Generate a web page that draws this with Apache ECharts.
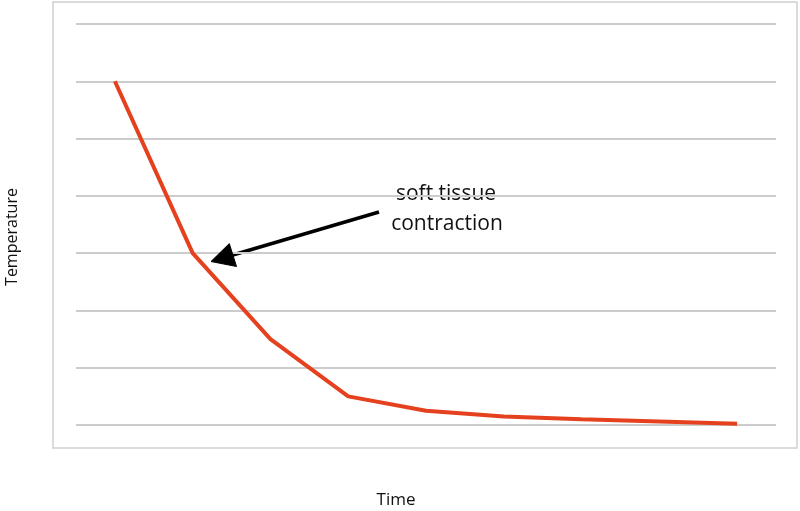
<!DOCTYPE html>
<html><head><meta charset="utf-8">
<script src="https://cdn.jsdelivr.net/npm/echarts@6/dist/echarts.min.js"></script>
<style>html,body{margin:0;padding:0;background:#fff}#c{width:800px;height:511px}</style>
</head><body><div id="c"></div>
<script>
var categories = ['1','2','3','4','5','6','7','8','9'];
var temperature = [6.0, 3.0, 1.5, 0.5, 0.25, 0.15, 0.1, 0.06, 0.02];
var yTicks = [0,1,2,3,4,5,6,7];

var chart = echarts.init(document.getElementById('c'));
var font = '"Open Sans", "Noto Sans", sans-serif';
chart.setOption({
  animation: false,
  grid: {left: 76, right: 24, top: 24, bottom: 86},
  xAxis: {type: 'category', data: categories, boundaryGap: true,
    axisLine: {show: false}, axisTick: {show: false}, axisLabel: {show: false}},
  yAxis: {type: 'value', min: yTicks[0], max: yTicks[yTicks.length-1], interval: 1,
    axisLine: {show: false}, axisTick: {show: false}, axisLabel: {show: false},
    splitLine: {lineStyle: {color: '#cccccc', width: 2}}},
  series: [{type: 'line', data: temperature, symbol: 'none',
    lineStyle: {color: '#e5411e', width: 4}}],
  graphic: [
    {type: 'rect', shape: {x: 53, y: 2, width: 744, height: 446}, z: -1,
      style: {fill: 'none', stroke: '#cfcfcf', lineWidth: 1.5}},
    {type: 'text', x: 12, y: 237, rotation: Math.PI/2,
      style: {text: 'Temperature', font: '16px ' + font, fill: '#111', textAlign: 'center', textVerticalAlign: 'middle'}},
    {type: 'text', x: 396, y: 500,
      style: {text: 'Time', font: '17px ' + font, fill: '#111', textAlign: 'center', textVerticalAlign: 'middle'}},
    {type: 'text', x: 446, y: 194,
      style: {text: 'soft tissue', font: '21px ' + font, fill: '#111', textAlign: 'center', textVerticalAlign: 'middle'}},
    {type: 'text', x: 447, y: 224,
      style: {text: 'contraction', font: '21px ' + font, fill: '#111', textAlign: 'center', textVerticalAlign: 'middle'}},
    {type: 'line', shape: {x1: 379, y1: 212, x2: 226, y2: 257}, style: {stroke: '#000', lineWidth: 3.5}},
    {type: 'polygon', z: 10, shape: {points: [[211, 261.5], [236.5, 266.5], [229.3, 243.6]]},
      style: {fill: '#000', stroke: '#000', lineWidth: 1}}
  ]
});
</script></body></html>
